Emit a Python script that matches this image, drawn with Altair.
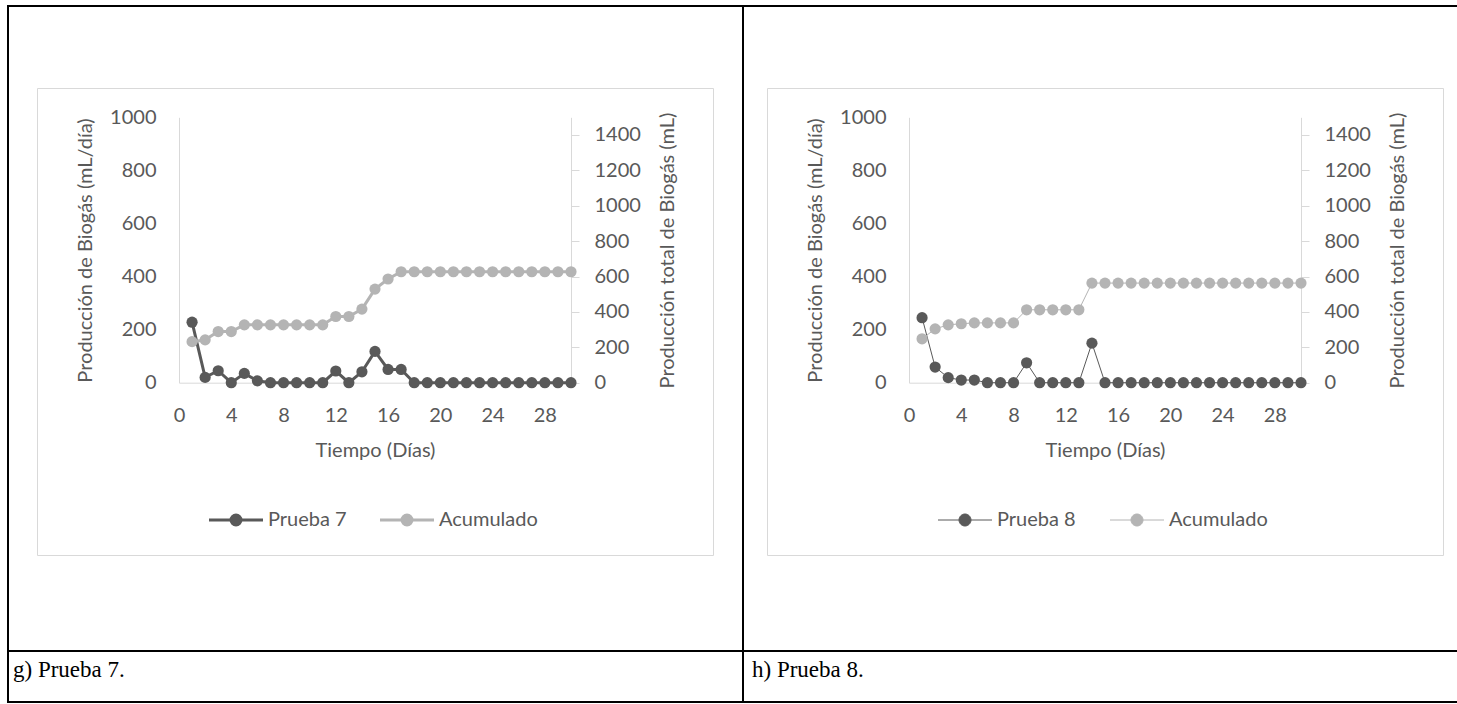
import altair as alt
import pandas as pd

# ---------------- data ----------------
dias = [1, 2, 3, 4, 5, 6, 7, 8, 9, 10, 11, 12, 13, 14, 15,
        16, 17, 18, 19, 20, 21, 22, 23, 24, 25, 26, 27, 28, 29, 30]

prueba7 = [228, 20, 45, 0, 35, 7, 0, 0, 0, 0, 0, 44, 0, 41, 118,
           50, 50, 0, 0, 0, 0, 0, 0, 0, 0, 0, 0, 0, 0, 0]
acum7 = [232, 242, 289, 289, 327, 327, 327, 327, 327, 327, 327, 374, 374, 416, 529,
         586, 627, 627, 627, 627, 627, 627, 627, 627, 627, 627, 627, 627, 627, 627]

prueba8 = [245, 59, 19, 10, 10, 0, 0, 0, 75, 0, 0, 0, 0, 149, 0,
           0, 0, 0, 0, 0, 0, 0, 0, 0, 0, 0, 0, 0, 0, 0]
acum8 = [248, 304, 327, 333, 338, 338, 338, 338, 412, 412, 412, 412, 412, 563, 563,
         563, 563, 563, 563, 563, 563, 563, 563, 563, 563, 563, 563, 563, 563, 563]

x_ticks = [0, 4, 8, 12, 16, 20, 24, 28]
y1_ticks = [0, 200, 400, 600, 800, 1000]
y2_ticks = [0, 200, 400, 600, 800, 1000, 1200, 1400]

# ---------------- style ----------------
W, H = 1457, 704
DARK = "#595959"
LIGHT = "#b4b4b4"
AXIS_C = "#d9d9d9"
TXT = "#595959"
FONT = "Lato"
FS = 20
PLOT_TOP, PLOT_BOTTOM = 117.3, 382.7


def axis_common():
    return dict(grid=False, domainColor=AXIS_C, domainWidth=1, format="d",
                labelFont=FONT, labelFontSize=FS, labelColor=TXT,
                titleFont=FONT, titleFontSize=FS, titleColor=TXT,
                titleFontWeight="normal", labelOverlap=False, labelFlush=False)


def panel(daily, cum, name_daily, sw, x0, x1, legend_pos):
    xs = alt.Scale(domain=[0, 30], range=[x0, x1], nice=False, zero=False)
    ys1 = alt.Scale(domain=[0, 1000], range=[PLOT_BOTTOM, PLOT_TOP], nice=False, zero=False)
    ys2 = alt.Scale(domain=[0, 1500], range=[PLOT_BOTTOM, PLOT_TOP], nice=False, zero=False)

    df_d = pd.DataFrame({"dia": dias, "valor": daily, "serie": name_daily})
    df_c = pd.DataFrame({"dia": dias, "valor": cum, "serie": "Acumulado"})

    x_axis = alt.Axis(orient="bottom", offset=PLOT_BOTTOM - H, values=x_ticks,
                      ticks=False, labelPadding=22.6, title="Tiempo (Días)",
                      titleBaseline="alphabetic", titleX=(x0 + x1) / 2, titleY=74,
                      **axis_common())
    y_left = alt.Axis(orient="left", offset=-x0, values=y1_ticks, ticks=False,
                      labelPadding=23, title="Producción de Biogás (mL/día)",
                      titleAngle=270, titleBaseline="alphabetic", titleAlign="center",
                      titleX=-88, titleY=(PLOT_TOP + PLOT_BOTTOM) / 2, **axis_common())
    y_right = alt.Axis(orient="right", offset=x1 - W, values=y2_ticks, ticks=True,
                       tickSize=8, tickColor=AXIS_C, tickWidth=1, labelPadding=15,
                       title="Producción total de Biogás (mL)",
                       titleAngle=270, titleBaseline="alphabetic", titleAlign="center",
                       titleX=102, titleY=(PLOT_TOP + PLOT_BOTTOM) / 2, **axis_common())

    def legend(lx, ly, s, color):
        half = 27.0 / s
        path = (f"M{-half:.3f},0H-1M1,0H{half:.3f}"
                "M-1,0A1,1,0,1,1,1,0A1,1,0,1,1,-1,0Z")
        return alt.Legend(orient="none", legendX=lx, legendY=ly, title=None,
                          symbolType=path, symbolSize=(2 * s) ** 2,
                          symbolStrokeWidth=sw, symbolStrokeColor=color,
                          symbolFillColor=color, symbolOpacity=1,
                          labelFont=FONT, labelFontSize=FS, labelColor=TXT,
                          labelOffset=22, padding=0)

    s = 6.5 - sw / 2.0
    (lx1, ly1), (lx2, ly2) = legend_pos

    line_d = alt.Chart(df_d).mark_line(color=DARK, strokeWidth=sw).encode(
        x=alt.X("dia:Q", scale=xs, axis=x_axis),
        y=alt.Y("valor:Q", scale=ys1, axis=y_left),
    )
    pts_d = alt.Chart(df_d).mark_circle(size=125, opacity=1).encode(
        x=alt.X("dia:Q", scale=xs, axis=None),
        y=alt.Y("valor:Q", scale=ys1, axis=None),
        color=alt.Color("serie:N", scale=alt.Scale(domain=[name_daily], range=[DARK]),
                        legend=legend(lx1, ly1, s, DARK)),
    )
    line_c = alt.Chart(df_c).mark_line(color=LIGHT, strokeWidth=sw).encode(
        x=alt.X("dia:Q", scale=xs, axis=None),
        y=alt.Y("valor:Q", scale=ys2, axis=y_right),
    )
    pts_c = alt.Chart(df_c).mark_circle(size=125, opacity=1).encode(
        x=alt.X("dia:Q", scale=xs, axis=None),
        y=alt.Y("valor:Q", scale=ys2, axis=None),
        color=alt.Color("serie:N", scale=alt.Scale(domain=["Acumulado"], range=[LIGHT]),
                        legend=legend(lx2, ly2, s, LIGHT)),
    )
    return [line_d, pts_d, line_c, pts_c]


one = pd.DataFrame({"k": [0]})


def rule(x, x2, y, y2, color="black", width=2):
    return alt.Chart(one).mark_rule(color=color, strokeWidth=width).encode(
        x=alt.value(x), x2=alt.value(x2), y=alt.value(y), y2=alt.value(y2))


def frame(x, x2, y, y2):
    return alt.Chart(one).mark_rect(fillOpacity=0, stroke=AXIS_C, strokeWidth=1).encode(
        x=alt.value(x), x2=alt.value(x2), y=alt.value(y), y2=alt.value(y2))


def caption(x, y, txt):
    return alt.Chart(one).mark_text(align="left", baseline="alphabetic",
                                    font="Liberation Serif", fontSize=23,
                                    color="black").encode(
        x=alt.value(x), y=alt.value(y), text=alt.value(txt))


decor = [
    frame(37.5, 713.5, 88.5, 555.5),
    frame(767.5, 1443.5, 88.5, 555.5),
    rule(7, W + 5, 6, 6),
    rule(8, 8, 5, 703),
    rule(743, 743, 5, 703),
    rule(7, W + 5, 651, 651),
    rule(7, W + 5, 702, 702),
    caption(13, 677, "g) Prueba 7."),
    caption(752, 677, "h) Prueba 8."),
]

left = panel(prueba7, acum7, "Prueba 7", 3, 179, 571, [(226, 510), (397, 510)])
right = panel(prueba8, acum8, "Prueba 8", 1, 909, 1301, [(955, 510), (1127, 510)])

chart = alt.layer(*decor, *left, *right).resolve_scale(
    x="independent", y="independent", color="independent"
).resolve_axis(
    x="independent", y="independent"
).resolve_legend(
    color="independent"
).properties(
    width=W, height=H, padding=0, background="white",
    autosize=alt.AutoSizeParams(type="none"),
).configure_view(stroke=None)

chart.save("out.html", embed_options={"renderer": "svg", "actions": False})
